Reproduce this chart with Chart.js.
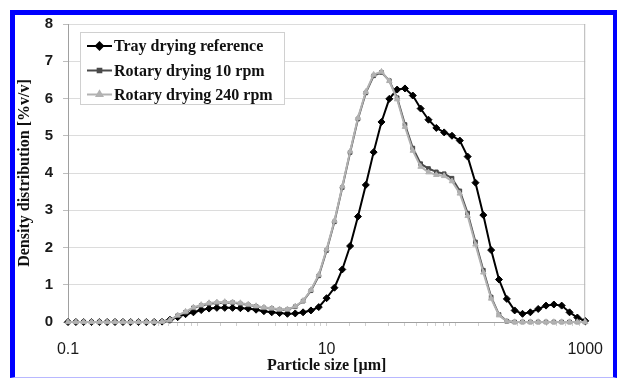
<!DOCTYPE html>
<html><head><meta charset="utf-8">
<script src="https://cdn.jsdelivr.net/npm/chart.js@4/dist/chart.umd.min.js"></script>
<style>
html,body{margin:0;padding:0;background:#fff;}
#wrap{position:relative;width:617px;height:378px;overflow:hidden;}
#frame{position:absolute;left:10px;top:10px;width:598px;height:362px;border-left:5px solid #0000ff;border-top:5px solid #0000ff;border-right:4px solid #0000ff;border-bottom:1px solid #b8b8ff;}
#c{position:absolute;left:0;top:0;}
</style></head>
<body>
<div id="wrap"><div id="frame"></div><canvas id="c" width="617" height="378"></canvas></div>
<script>
// Particle size classes [µm]
const sizes = [0.1,0.115,0.132,0.152,0.175,0.201,0.231,0.266,0.305,0.351,0.404,0.464,0.534,0.614,0.705,0.811,0.933,
  1.072,1.233,1.417,1.630,1.874,2.154,2.477,2.848,3.275,3.765,4.329,4.977,5.722,6.579,7.565,8.697,
  10.0,11.50,13.22,15.20,17.48,20.10,23.11,26.57,30.54,35.12,40.37,46.42,53.37,61.36,70.55,81.11,93.26,
  107.2,123.3,141.7,163.0,187.4,215.4,247.7,284.8,327.5,376.5,432.9,497.7,572.2,657.9,756.5,869.7,1000];

const trayDrying = [0,0,0,0,0,0,0,0,0,0,0,0,
  0.01,0.06,0.13,0.21,0.26,0.32,0.36,0.38,0.38,0.38,0.37,0.36,0.33,0.29,0.26,0.24,0.22,0.23,0.26,0.31,0.40,
  0.64,0.92,1.41,2.04,2.83,3.68,4.56,5.37,5.99,6.24,6.27,6.08,5.73,5.43,5.21,5.09,5.00,4.87,4.44,3.74,2.87,1.93,
  1.14,0.62,0.31,0.22,0.26,0.35,0.44,0.47,0.44,0.26,0.12,0.03];

const rotary10 = [0,0,0,0,0,0,0,0,0,0,0,0,
  0.01,0.04,0.17,0.26,0.38,0.44,0.49,0.51,0.52,0.52,0.49,0.46,0.42,0.38,0.36,0.33,0.33,0.41,0.56,0.84,1.24,
  1.92,2.69,3.61,4.55,5.45,6.15,6.61,6.70,6.48,6.02,5.30,4.67,4.25,4.12,4.03,3.98,3.86,3.52,2.92,2.15,1.39,0.67,0.20,0.02,
  0,0,0,0,0,0,0,0,0,0];

const rotary240 = [0,0,0,0,0,0,0,0,0,0,0,0,
  0.01,0.05,0.18,0.28,0.39,0.46,0.51,0.53,0.54,0.53,0.51,0.47,0.43,0.39,0.37,0.34,0.34,0.42,0.57,0.86,1.27,
  1.95,2.72,3.64,4.58,5.48,6.18,6.64,6.72,6.47,5.98,5.24,4.60,4.17,4.02,3.95,3.92,3.78,3.45,2.85,2.08,1.33,0.63,0.18,0.02,
  0,0,0,0,0,0,0,0,0,0];

const seriesNames = ['Tray drying reference','Rotary drying 10 rpm','Rotary drying 240 rpm'];
const xTickLabels = [0.1, 10, 1000];
const yTickValues = [0,1,2,3,4,5,6,7,8];

const toPts = v => sizes.map((s,i)=>({x:s,y:v[i]}));

const styles = [
  {color:'#000000', point:'rectRot', r:3.5},
  {color:'#4a4a4a', point:'rect', r:2.6},
  {color:'#b2b2b2', point:'triangle', r:3.2}
];

const legendPlugin = {
  id:'boxLegend',
  afterDatasetsDraw(chart){
    const ctx = chart.ctx, a = chart.chartArea;
    ctx.save();
    // right border of plot area
    ctx.strokeStyle = '#b4b4b4'; ctx.lineWidth = 1;
    ctx.beginPath(); ctx.moveTo(a.right-0.5, a.top); ctx.lineTo(a.right-0.5, a.bottom); ctx.stroke();
    // legend box
    const bx = 80.5, by = 32.5, bw = 204, bh = 72;
    ctx.fillStyle = '#ffffff'; ctx.fillRect(bx, by, bw, bh);
    ctx.strokeStyle = '#d0d0d0'; ctx.strokeRect(bx, by, bw, bh);
    const rows = [46, 70.5, 94.5];
    ctx.font = 'bold 16px "Liberation Serif", "Times New Roman", serif';
    ctx.textBaseline = 'middle'; ctx.textAlign = 'left';
    seriesNames.forEach((name, k) => {
      const st = styles[k], y = rows[k];
      ctx.strokeStyle = st.color; ctx.lineWidth = 2;
      ctx.beginPath(); ctx.moveTo(87, y); ctx.lineTo(112, y); ctx.stroke();
      Chart.helpers.drawPoint(ctx, {pointStyle: st.point, radius: st.r, borderWidth: 1}, 99.5, y);
      ctx.fillStyle = st.color;
      ctx.beginPath();
      Chart.helpers.drawPoint(ctx, {pointStyle: st.point, radius: st.r, borderWidth: 0}, 99.5, y);
      ctx.fillStyle = '#111';
      ctx.fillText(name, 114, y + 1);
    });
    ctx.restore();
  }
};

new Chart(document.getElementById('c'), {
  type: 'line',
  data: {
    datasets: [trayDrying, rotary10, rotary240].map((v, k) => ({
      label: seriesNames[k],
      data: toPts(v),
      borderColor: styles[k].color,
      backgroundColor: styles[k].color,
      pointBackgroundColor: styles[k].color,
      pointBorderColor: styles[k].color,
      pointStyle: styles[k].point,
      pointRadius: styles[k].r,
      pointBorderWidth: 1,
      borderWidth: 2,
      tension: 0,
      clip: false,
      order: 3 - k
    }))
  },
  options: {
    responsive: false,
    animation: false,
    events: [],
    layout: {padding: {left: 0, right: 22, top: 24, bottom: 0}},
    plugins: {legend: {display: false}, tooltip: {enabled: false}},
    scales: {
      x: {
        type: 'logarithmic', min: 0.1, max: 1000, position: 'bottom',
        afterFit: s => { s.height = 56; },
        grid: {drawOnChartArea: false, drawTicks: true, tickLength: 4, tickColor: '#d0d0d0'},
        border: {color: '#a0a0a0', width: 1},
        ticks: {
          autoSkip: false, maxRotation: 0, padding: 14,
          color: '#1a1a1a',
          font: {family: '"Liberation Sans", Arial, sans-serif', size: 16},
          callback: v => { const t = xTickLabels.find(t => Math.abs(v - t) / t < 1e-6); return t === undefined ? '' : String(t); }
        },
        title: {display: true, text: 'Particle size [µm]', color: '#111',
          font: {family: '"Liberation Serif", "Times New Roman", serif', size: 16, weight: 'bold'},
          padding: {top: 0, bottom: 3}}
      },
      y: {
        min: 0, max: 8,
        afterFit: s => { s.width = 68; },
        afterBuildTicks: s => { s.ticks = yTickValues.map(v => ({value: v})); },
        grid: {color: '#dcdcdc', tickColor: '#bdbdbd', tickLength: 5},
        border: {color: '#a0a0a0', width: 1},
        ticks: {padding: 10, color: '#1a1a1a',
          font: {family: '"Liberation Sans", Arial, sans-serif', size: 15, weight: 'bold'}},
        title: {display: true, text: 'Density distribution [%v/v]', color: '#111',
          font: {family: '"Liberation Serif", "Times New Roman", serif', size: 16, weight: 'bold'},
          padding: {top: 15, bottom: 0}}
      }
    }
  },
  plugins: [legendPlugin]
});
</script>
</body></html>
